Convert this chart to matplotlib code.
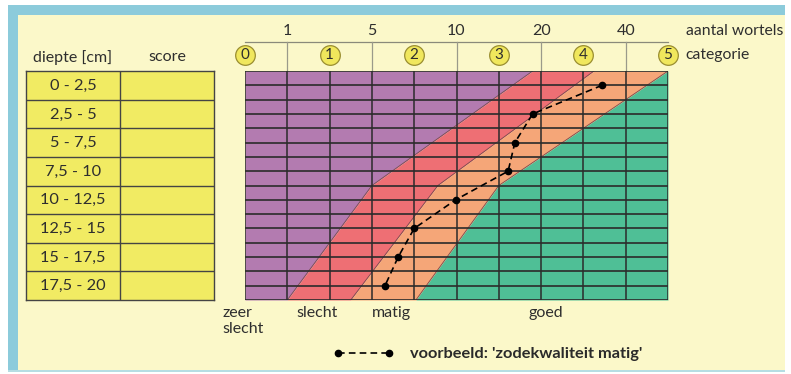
import matplotlib
matplotlib.use("Agg")
import matplotlib.pyplot as plt
from matplotlib.patches import Rectangle

plt.rcParams['font.family'] = ['Lato', 'DejaVu Sans']

# ---- data ----
depth_labels = ["0 - 2,5", "2,5 - 5", "5 - 7,5", "7,5 - 10",
                "10 - 12,5", "12,5 - 15", "15 - 17,5", "17,5 - 20"]
categories = [0, 1, 2, 3, 4, 5]
root_ticks = ["1", "5", "10", "20", "40"]
root_tick_pos = [0.5, 1.5, 2.5, 3.5, 4.5]

# zone boundaries (category units) at depths 0, 10, 20 cm
bound_depth = [0, 10, 20]
b_zeerslecht_slecht = [3.4, 1.5, 0.5]
b_slecht_matig = [4.125, 2.28, 1.25]
b_matig_goed = [5.0, 3.0, 2.02]

# example profile (category units) at row mid-depths
ex_depth = [1.25, 3.75, 6.25, 8.75, 11.25, 13.75, 16.25, 18.75]
ex_value = [4.22, 3.40, 3.19, 3.11, 2.49, 2.0, 1.81, 1.655]

zone_labels = ["zeer\nslecht", "slecht", "matig", "goed"]
zone_label_x = [-0.27, 0.85, 1.73, 3.56]
zone_label_ha = ["left", "center", "center", "center"]

C_PURPLE = "#b37bb0"
C_RED = "#ee6f74"
C_ORANGE = "#f5a678"
C_GREEN = "#4fbf96"
C_CREAM = "#fbf8c9"
C_BLUE = "#8ccbdb"
C_YELLOW = "#f1eb63"
C_TEXT = "#2e2e2e"

W, H = 791, 374
fig = plt.figure(figsize=(W / 100, H / 100), dpi=100)
fig.patch.set_facecolor("white")

def fx(px):
    return px / W

def fy(py):
    return 1 - py / H

# frame
for (x0, y0, x1, y1, col) in [(8, 5, 785, 372, C_CREAM), (8, 5, 18, 372, C_BLUE),
                              (8, 5, 785, 15, C_BLUE), (8, 370, 785, 372, "#b5dde3")]:
    fig.patches.append(Rectangle((fx(x0), fy(y1)), fx(x1) - fx(x0), fy(y0) - fy(y1),
                                 transform=fig.transFigure, facecolor=col,
                                 edgecolor="none", zorder=-10))

# ---- main chart axes ----
ax = fig.add_axes([fx(245), fy(300), fx(668) - fx(245), fy(71) - fy(300)])
ax.set_zorder(2)
ax.set_xlim(0, 5)
ax.set_ylim(20, 0)
ax.set_facecolor("none")
for s in ax.spines.values():
    s.set_visible(False)
ax.set_xticks([])
ax.set_yticks([])

zero = [0, 0, 0]
five = [5, 5, 5]
ax.fill_betweenx(bound_depth, zero, b_zeerslecht_slecht, color=C_PURPLE, lw=0, zorder=1)
ax.fill_betweenx(bound_depth, b_zeerslecht_slecht, b_slecht_matig, color=C_RED, lw=0, zorder=1)
ax.fill_betweenx(bound_depth, b_slecht_matig, b_matig_goed, color=C_ORANGE, lw=0, zorder=1)
ax.fill_betweenx(bound_depth, b_matig_goed, five, color=C_GREEN, lw=0, zorder=1)
for b in (b_zeerslecht_slecht, b_slecht_matig, b_matig_goed):
    ax.plot(b, bound_depth, color="#7a4a50", lw=0.6, zorder=2)

# grid
for i in range(11):
    ax.axvline(i * 0.5, color="#2b2b2b", lw=1.1, zorder=3)
for j in range(17):
    ax.axhline(j * 1.25, color="#2b2b2b", lw=1.2, zorder=3)

# example line
line, = ax.plot(ex_value, ex_depth, color="black", ls=(0, (4, 2.5)), lw=1.2,
                marker="o", ms=4.5, zorder=5, clip_on=False)

# header
hdr_top = -2.53
ax.plot([0, 5], [hdr_top, hdr_top], color="#8a8a7a", lw=0.9, clip_on=False)
for p, t in zip(root_tick_pos, root_ticks):
    ax.plot([p, p], [hdr_top, 0], color="#9a9a8a", lw=0.9, clip_on=False)
    ax.text(p, -3.5, t, ha="center", va="center", fontsize=11.5, color=C_TEXT, clip_on=False)
ax.scatter(categories, [-1.42] * len(categories), s=200, facecolor="#f0e75c",
           edgecolor="#9a8e30", lw=0.9, clip_on=False, zorder=6)
for c in categories:
    ax.text(c, -1.36, str(c), ha="center", va="center", fontsize=11, color=C_TEXT,
            clip_on=False, zorder=7)
ax.text(5.21, -3.5, "aantal wortels", ha="left", va="center", fontsize=11.3,
        color=C_TEXT, clip_on=False)
ax.text(5.21, -1.42, "categorie", ha="left", va="center", fontsize=11.3,
        color=C_TEXT, clip_on=False)

# zone labels
for lab, x, ha in zip(zone_labels, zone_label_x, zone_label_ha):
    ax.text(x, 20.5, lab, ha=ha, va="top", fontsize=11.5, color=C_TEXT,
            linespacing=1.2, clip_on=False)

# legend
leg = fig.legend([line], ["voorbeeld: 'zodekwaliteit matig'"], loc="center left",
                 bbox_to_anchor=(fx(333), fy(354)), frameon=False, handlelength=3.7,
                 handletextpad=1.0, borderpad=0, borderaxespad=0, numpoints=2,
                 prop={"weight": "bold", "size": 11.8})
for t in leg.get_texts():
    t.set_color("#2a2a2a")

# ---- left table ----
tx = fig.add_axes([fx(26), fy(300), fx(214) - fx(26), fy(71) - fy(300)])
tx.set_zorder(2)
tx.set_xlim(0, 2)
tx.set_ylim(len(depth_labels), 0)
tx.set_facecolor(C_YELLOW)
for s in tx.spines.values():
    s.set_color("#444444")
    s.set_linewidth(1.0)
tx.set_xticks([])
tx.set_yticks([])
tx.axvline(1.0, color="#444444", lw=1.0)
for i, lab in enumerate(depth_labels):
    if i > 0:
        tx.axhline(i, color="#444444", lw=1.0)
    tx.text(0.5, i + 0.52, lab, ha="center", va="center", fontsize=11.8, color=C_TEXT)
tx.text(0.5, -0.48, "diepte [cm]", ha="center", va="center", fontsize=11.5,
        color=C_TEXT, clip_on=False)
tx.text(1.5, -0.48, "score", ha="center", va="center", fontsize=11.5,
        color=C_TEXT, clip_on=False)

fig.savefig("out.png", dpi=100, facecolor=fig.get_facecolor())
